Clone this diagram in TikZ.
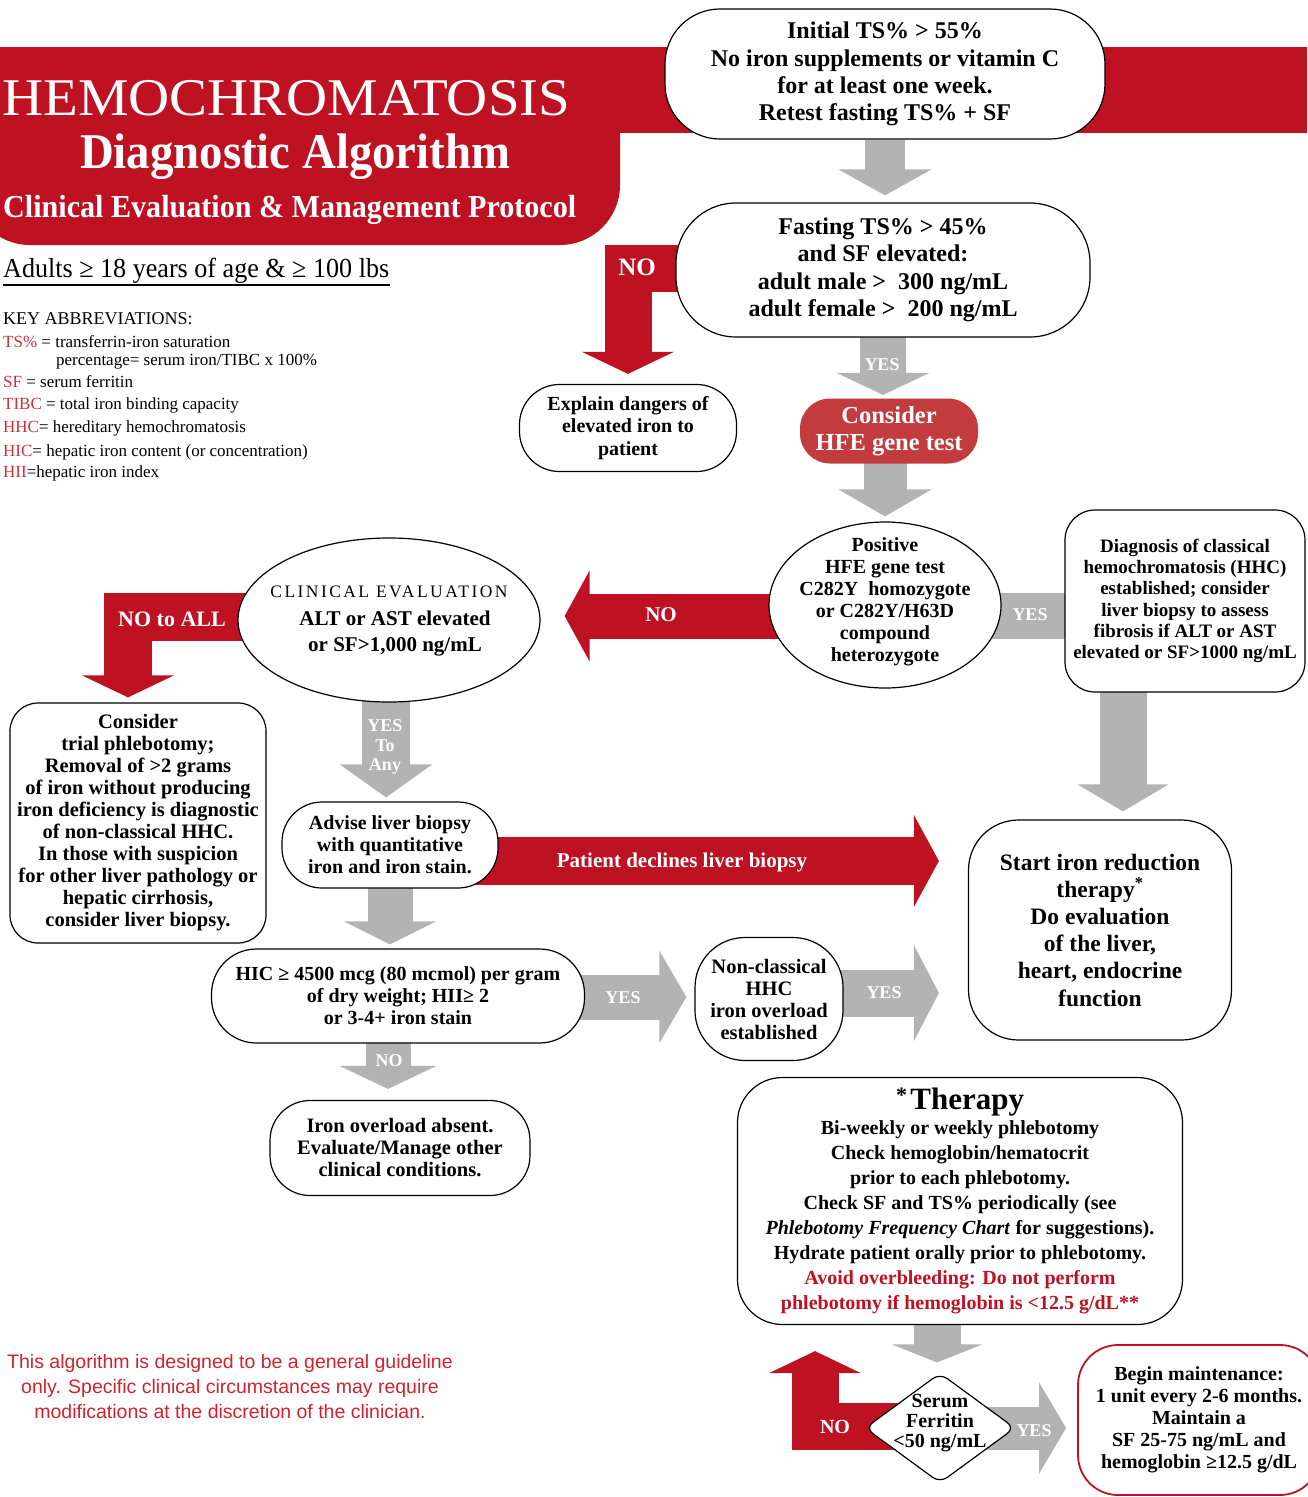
\documentclass[tikz,border=0pt]{standalone}
\usepackage{fontspec}
\usepackage{graphicx}
\setmainfont{Liberation Serif}
\newfontfamily\hcsans{Liberation Sans}
\usetikzlibrary{shapes.geometric,arrows.meta}
\pgfdeclarelayer{bg}
\pgfsetlayers{bg,main}
\definecolor{hred}{HTML}{BE1222}
\definecolor{hredb}{HTML}{C23B3E}
\definecolor{hgray}{HTML}{B3B3B3}
\definecolor{hkey}{HTML}{C8313A}
\definecolor{hfoot}{HTML}{D0222F}
\newcommand{\hfs}[2]{\fontsize{#1}{#2}\selectfont}
\newcommand{\hcfit}[2]{\resizebox{#1}{\height}{#2}}
\tikzset{
  box/.style={draw=black, line width=1.2pt, fill=white, align=center, inner sep=0pt},
  bt/.style 2 args={font=\bfseries\fontsize{#1}{#2}\selectfont},
  blk/.style n args={4}{draw=#1, line width=#2, -{Triangle[width=#3, length=#4]}},
  lab/.style={text=white, inner sep=0pt, align=center},
  txt/.style={inner sep=0pt, align=center},
  keyt/.style={inner sep=0pt, anchor=base west, font=\fontsize{17}{17}\selectfont},
}
\begin{document}
\begin{tikzpicture}[x=1pt,y=-1pt]
\useasboundingbox (0,0) rectangle (1307,1497);

% ---------- title texts ----------
\node[txt, anchor=base west, text=white, font=\hfs{53}{53}] (t1) at (2,115) {\hcfit{568pt}{HEMOCHROMATOSIS}};
\node[txt, anchor=base west, text=white, font=\bfseries\hfs{50}{50}] (t2) at (80,168) {\hcfit{430pt}{Diagnostic Algorithm}};
\node[txt, anchor=base west, text=white, font=\bfseries\hfs{32}{32}] (t3) at (3,217) {\hcfit{573pt}{Clinical Evaluation \& Management Protocol}};
\node[txt, anchor=base west, font=\hfs{27.5}{27.5}] (t4) at (3,277) {\hcfit{386pt}{Adults ≥ 18 years of age \& ≥ 100 lbs}};
\draw[line width=1.2pt] (t4.base west |- 0,285) -- (390,285);

% ---------- key abbreviations ----------
\node[keyt, font=\hfs{18}{18}] (k0) at (3,324) {KEY ABBREVIATIONS:};
\node[keyt] (k1) at (3,347) {\textcolor{hkey}{TS\%} = transferrin-iron saturation};
\node[keyt] (k2) at (56,365) {percentage= serum iron/TIBC x 100\%};
\node[keyt] (k3) at (3,387) {\textcolor{hkey}{SF} = serum ferritin};
\node[keyt] (k4) at (3,409) {\textcolor{hkey}{TIBC} = total iron binding capacity};
\node[keyt] (k5) at (3,432) {\textcolor{hkey}{HHC}= hereditary hemochromatosis};
\node[keyt] (k6) at (3,456) {\textcolor{hkey}{HIC}= hepatic iron content (or concentration)};
\node[keyt] (k7) at (3,477) {\textcolor{hkey}{HII}=hepatic iron index};

% ---------- footnote ----------
\node[txt, text=hfoot, font=\hcsans\hfs{19.5}{25}] (foot) at (230,1387) {This algorithm is designed to be a general guideline\\only. Specific clinical circumstances may require\\modifications at the discretion of the clinician.};

% ---------- boxes ----------
\node[box, rounded corners=55pt, minimum width=440pt, minimum height=130pt, bt={24}{27.3}] (n1) at (885,74)
  {Initial TS\% > 55\%\\No iron supplements or vitamin C\\for at least one week.\\Retest fasting TS\% + SF};
\node[box, rounded corners=60pt, minimum width=414pt, minimum height=134pt, bt={24}{27.5}] (n2) at (883,270)
  {Fasting TS\% > 45\%\\and SF elevated:\\adult male >\enspace 300 ng/mL\\adult female >\enspace 200 ng/mL};
\node[box, rounded corners=40pt, minimum width=217pt, minimum height=87pt, bt={20}{22.5}] (n3) at (628,428)
  {Explain dangers of\\elevated iron to\\patient};
\node[box, draw=none, fill=hredb, text=white, rounded corners=30pt, minimum width=178pt, minimum height=65pt, bt={24.5}{27}] (n4) at (889,431)
  {Consider\\HFE gene test};
\node[box, ellipse, minimum width=232pt, minimum height=166pt] (n5) at (885,605) {};
\node[txt, bt={20}{22}] (n5t) at (885,602)
  {Positive\\HFE gene test\\C282Y\ \ homozygote\\or C282Y/H63D\\compound\\heterozygote};
\node[box, ellipse, minimum width=302pt, minimum height=164pt] (n6) at (389,620) {};
\node[txt, font=\hfs{17.5}{17.5}\addfontfeature{LetterSpace=14}] (n6t1) at (389,592) {CLINICAL EVALUATION};
\node[txt, bt={21}{26}] (n6t2) at (395,634) {ALT or AST elevated\\or SF>1,000 ng/mL};
\node[box, rounded corners=30pt, minimum width=240pt, minimum height=182pt, bt={19}{21.3}] (n7) at (1185,601)
  {Diagnosis of classical\\hemochromatosis (HHC)\\established; consider\\liver biopsy to assess\\fibrosis if ALT or AST\\elevated or SF>1000 ng/mL};
\node[box, rounded corners=28pt, minimum width=256pt, minimum height=240pt, bt={20.5}{22}] (n8) at (138,823)
  {Consider\\trial phlebotomy;\\Removal of >2 grams\\of iron without producing\\iron deficiency is diagnostic\\of non-classical HHC.\\In those with suspicion\\for other liver pathology or\\hepatic cirrhosis,\\consider liver biopsy.};
\node[box, rounded corners=40pt, minimum width=216pt, minimum height=86pt, bt={20}{22}] (n9) at (390,845)
  {Advise liver biopsy\\with quantitative\\iron and iron stain.};
\node[box, rounded corners=50pt, minimum width=263pt, minimum height=220pt, bt={23.5}{27.2}] (n10) at (1100,930)
  {Start iron reduction\\therapy\textsuperscript{*}\\Do evaluation\\of the liver,\\heart, endocrine\\function};
\node[box, rounded corners=45pt, minimum width=373pt, minimum height=94pt, bt={20}{22}] (n11) at (398,996)
  {HIC ≥ 4500 mcg (80 mcmol) per gram\\of dry weight; HII≥ 2\\or 3-4+ iron stain};
\node[box, rounded corners=50pt, minimum width=148pt, minimum height=123pt, bt={20.5}{22}] (n12) at (769,999)
  {Non-classical\\HHC\\iron overload\\established};
\node[box, rounded corners=45pt, minimum width=445pt, minimum height=247pt, bt={20}{25}] (n13) at (960,1201)
  {\raisebox{7pt}{\hfs{22}{22}*}\,{\hfs{31}{28}Therapy}\\Bi-weekly or weekly phlebotomy\\Check hemoglobin/hematocrit\\prior to each phlebotomy.\\Check SF and TS\% periodically (see\\\textit{Phlebotomy Frequency Chart} for suggestions).\\Hydrate patient orally prior to phlebotomy.\\\textcolor{hred}{Avoid overbleeding: Do not perform}\\\textcolor{hred}{phlebotomy if hemoglobin is <12.5 g/dL**}};
\node[box, diamond, rounded corners=9pt, minimum width=150pt, minimum height=110pt] (n14) at (940,1428) {};
\node[txt, bt={20}{20}] (n14t) at (940,1423) {Serum\\Ferritin\\<50 ng/mL};
\node[box, draw=hred, line width=1.8pt, rounded corners=40pt, minimum width=242pt, minimum height=150pt, bt={20}{22}] (n15) at (1199,1420)
  {Begin maintenance:\\1 unit every 2-6 months.\\Maintain a\\SF 25-75 ng/mL and\\hemoglobin ≥12.5 g/dL};
\node[box, rounded corners=40pt, minimum width=260pt, minimum height=95pt, bt={20.5}{22}] (n16) at (400,1148)
  {Iron overload absent.\\Evaluate/Manage other\\clinical conditions.};

% ---------- helper coordinates ----------
\coordinate (ya) at (0,268.5);
\coordinate (xa) at (628,0);
\coordinate (yb) at (0,616);
\coordinate (yc) at (0,617);
\coordinate (xc) at (128,0);
\coordinate (x4) at (1123,0);
\coordinate (x5) at (386,0);
\coordinate (x7) at (388,0);
\coordinate (x8) at (937,0);
\coordinate (y9) at (0,997);
\coordinate (y10) at (0,993);
\coordinate (y11) at (0,1428);
\coordinate (y16) at (0,861);
\coordinate (y17) at (0,1426);
\coordinate (x17) at (815,0);

% ---------- background: banner and block arrows ----------
\begin{pgfonlayer}{bg}
\fill[hred] (0,47) rectangle (1307,133);
\fill[hred, rounded corners=60pt] (-30,47) -- (620,47) -- (620,245) -- (-30,245) -- cycle;

\draw[blk={hgray}{40pt}{92pt}{26pt}, shorten >=7pt] (n1.south) -- (n1.south |- n2.north);
\draw[blk={hgray}{46pt}{92pt}{22pt}, shorten >=3pt] (n2.center) -- (n2.center |- n4.north);
\draw[blk={hgray}{43pt}{92pt}{27pt}, shorten >=5pt] (n5.center |- n4.center) -- (n5.north);
\draw[blk={hgray}{47pt}{90pt}{27pt}, shorten >=8pt] (x4 |- n7.center) -- (x4 |- n10.north);
\draw[blk={hgray}{48pt}{91pt}{33pt}, shorten >=4pt] (x5 |- n6.center) -- (x5 |- n9.north);
\draw[blk={hgray}{45pt}{91pt}{23pt}, shorten >=4pt] (n9.center) -- (n9.center |- n11.north);
\draw[blk={hgray}{45pt}{96pt}{23pt}, shorten >=11pt] (x7 |- n11.center) -- (x7 |- n16.north);
\draw[blk={hgray}{47pt}{90pt}{18pt}, shorten >=10pt] (x8 |- n13.center) -- (x8 |- n14.north);
\draw[blk={hgray}{45pt}{91pt}{27pt}, shorten >=8pt] (n11.center |- y9) -- (n12.west |- y9);
\draw[blk={hgray}{47pt}{95pt}{25pt}, shorten >=29pt] (n12.center |- y10) -- (n10.west |- y10);
\draw[blk={hgray}{43pt}{90pt}{27pt}, shorten >=11pt] (n14.center |- y11) -- (n15.west |- y11);
\draw[hgray, line width=46pt] (n5.center |- yb) -- (n7.center |- yb);

\draw[blk={hred}{47pt}{91pt}{22pt}, shorten >=10pt] (n2.center |- ya) -| (xa |- n3.north);
\draw[blk={hred}{45pt}{90pt}{25pt}, shorten >=24pt] (n5.center |- yb) -- (n6.east |- yb);
\draw[blk={hred}{48pt}{91pt}{22pt}, shorten >=5pt] (n6.center |- yc) -| (xc |- n8.north);
\draw[blk={hred}{48pt}{91pt}{25pt}, shorten >=29pt] (n9.center |- y16) -- (n10.west |- y16);
\draw[blk={hred}{47pt}{91pt}{22pt}, shorten >=26pt] (n14.center |- y17) -| (x17 |- n13.south);
\end{pgfonlayer}

% ---------- arrow labels ----------
\node[lab, bt={25}{25}] (l1) at (637,267) {NO};
\node[lab, bt={18}{18}] (l2) at (882,365) {YES};
\node[lab, bt={21}{21}] (l3) at (661,615) {NO};
\node[lab, bt={18}{18}] (l4) at (1030,615) {YES};
\node[lab, bt={22}{22}] (l5) at (172,619) {NO to ALL};
\node[lab, bt={18}{19.5}] (l6) at (385,747) {YES\\To\\Any};
\node[lab, bt={21}{21}] (l7) at (682,862) {Patient declines liver biopsy};
\node[lab, bt={18}{18}] (l8) at (623,998) {YES};
\node[lab, bt={18}{18}] (l9) at (389,1061) {NO};
\node[lab, bt={18}{18}] (l10) at (884,993) {YES};
\node[lab, bt={20}{20}] (l11) at (835,1427) {NO};
\node[lab, bt={18}{18}] (l12) at (1034,1431) {YES};
\end{tikzpicture}
\end{document}
